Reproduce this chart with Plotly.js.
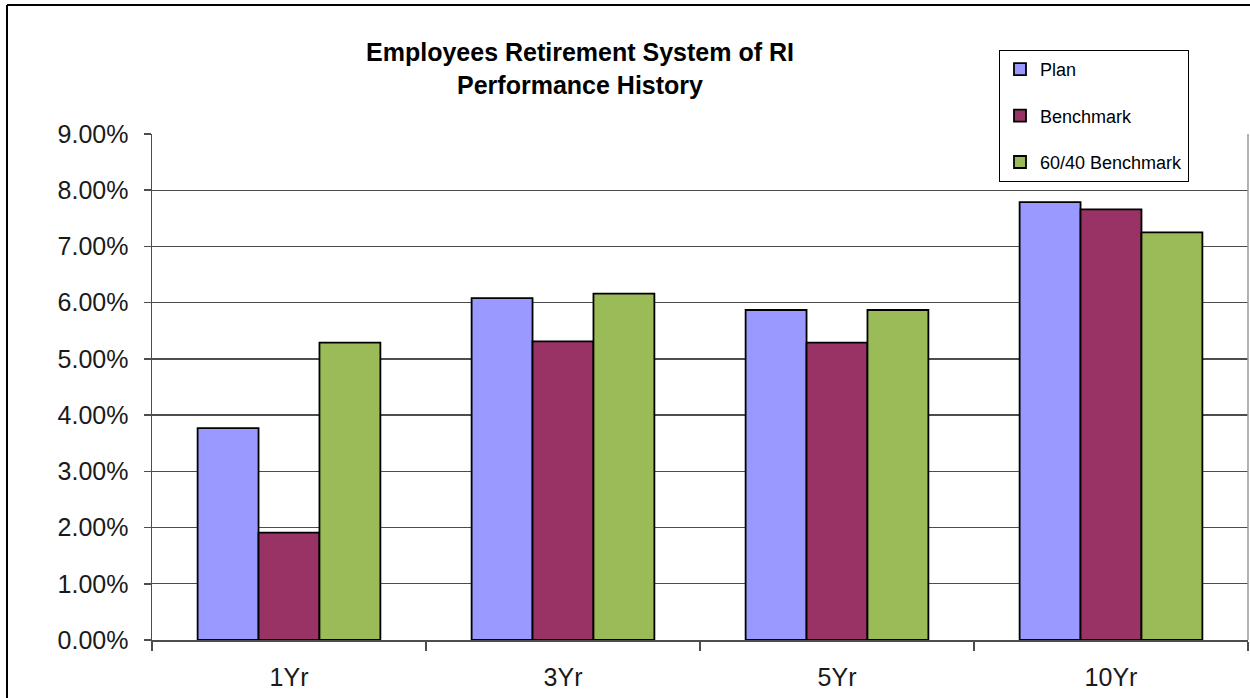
<!DOCTYPE html>
<html>
<head>
<meta charset="utf-8">
<script src="https://cdn.plot.ly/plotly-3.0.1.min.js"></script>
<style>html,body{margin:0;padding:0;background:#fff;}#chart{width:1250px;height:698px;}</style>
</head>
<body>
<div id="chart"></div>
<script>
const categories = ['1Yr', '3Yr', '5Yr', '10Yr'];
const planValues = [0.0377, 0.0608, 0.0587, 0.0779];
const benchmarkValues = [0.0191, 0.0531, 0.0529, 0.0766];
const sixtyFortyValues = [0.0529, 0.0616, 0.0587, 0.0725];
const seriesNames = ['Plan', 'Benchmark', '60/40 Benchmark'];
const seriesColors = ['#9999FF', '#993366', '#9BBB59'];
const yTickValues = [0, 0.01, 0.02, 0.03, 0.04, 0.05, 0.06, 0.07, 0.08, 0.09];

const allValues = [planValues, benchmarkValues, sixtyFortyValues];
const traces = allValues.map((vals, i) => ({
  type: 'bar',
  x: categories,
  y: vals,
  name: seriesNames[i],
  legendgroup: 'g' + i,
  marker: { color: seriesColors[i], line: { color: '#000000', width: 1.8 } },
  hoverinfo: 'x+y+name'
}));

const axisColor = '#4d4d4d';
const layout = {
  width: 1250,
  height: 698,
  margin: { l: 152, r: 2, t: 134, b: 58 },
  paper_bgcolor: '#ffffff',
  plot_bgcolor: '#ffffff',
  font: { family: 'Liberation Sans, Arial, sans-serif', color: '#1a1a1a' },
  title: {
    text: '<b>Employees Retirement System of RI<br>Performance History</b>',
    font: { family: 'Liberation Sans, Arial, sans-serif', size: 25, color: '#000000' },
    xref: 'container', x: 0.464, xanchor: 'center',
    yref: 'container', y: 1 - 61 / 698, yanchor: 'top'
  },
  barmode: 'group',
  bargap: 0.333,
  bargroupgap: 0,
  showlegend: true,
  legend: {
    x: (999 - 152) / 1096, xanchor: 'left',
    y: (640 - 50) / 506, yanchor: 'top',
    bgcolor: '#ffffff',
    bordercolor: '#000000',
    borderwidth: 1,
    font: { size: 18, color: '#000000' },
    traceorder: 'grouped',
    tracegroupgap: 20
  },
  xaxis: {
    type: 'category',
    tickson: 'boundaries',
    ticks: 'outside',
    ticklen: 9,
    tickcolor: axisColor,
    tickwidth: 1.5,
    showline: true,
    linecolor: axisColor,
    linewidth: 1.5,
    showgrid: false,
    tickfont: { size: 25, color: '#1a1a1a' },
    ticklabelstandoff: 14,
    fixedrange: true
  },
  yaxis: {
    range: [0, 0.09],
    tickvals: yTickValues,
    tickformat: '.2%',
    ticks: 'outside',
    ticklen: 7,
    tickcolor: axisColor,
    tickwidth: 1.5,
    showline: true,
    linecolor: axisColor,
    linewidth: 1.5,
    showgrid: true,
    gridcolor: axisColor,
    gridwidth: 1.4,
    zeroline: false,
    tickfont: { size: 25, color: '#1a1a1a' },
    ticklabelstandoff: 10,
    fixedrange: true
  },
  shapes: [
    { type: 'line', xref: 'paper', yref: 'paper', x0: -145 / 1096, x1: 1.01, y0: 635 / 506, y1: 635 / 506, line: { color: '#000000', width: 2 } },
    { type: 'line', xref: 'paper', yref: 'paper', x0: -145 / 1096, x1: -145 / 1096, y0: 635 / 506, y1: -0.2, line: { color: '#000000', width: 2 } },
    { type: 'line', xref: 'paper', yref: 'paper', x0: 1, x1: 1, y0: 0, y1: 1, line: { color: '#999999', width: 1.5 } }
  ]
};

Plotly.newPlot('chart', traces, layout, { displayModeBar: false, staticPlot: true });
</script>
</body>
</html>
